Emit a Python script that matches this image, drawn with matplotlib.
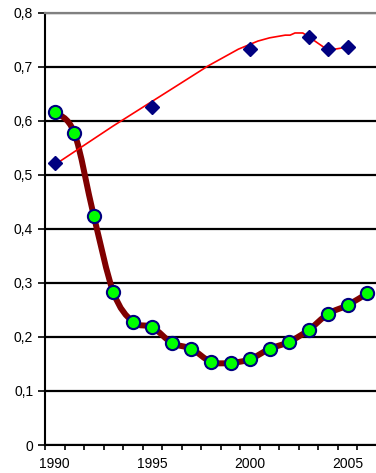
import numpy as np
import matplotlib
matplotlib.use("Agg")
import matplotlib.pyplot as plt
from matplotlib.path import Path
from matplotlib.patches import PathPatch
from matplotlib.ticker import FuncFormatter

plt.rcParams['font.family'] = ['Liberation Sans', 'DejaVu Sans']

# series
years = list(range(1990, 2007))
green_vals = [0.617, 0.578, 0.424, 0.283, 0.228, 0.218, 0.189, 0.178, 0.154,
              0.152, 0.159, 0.178, 0.191, 0.213, 0.243, 0.259, 0.281]

diamond_years = [1990, 1995, 2000, 2003, 2004, 2005]
diamond_vals = [0.522, 0.626, 0.733, 0.756, 0.733, 0.737]

red_years = [1990, 1993, 1996.15, 1997.85, 1998.7, 1999.4, 2000.4, 2001.0,
             2001.8, 2002.05, 2002.3, 2002.7, 2003.0, 2004.0, 2005.0]
red_vals = [0.519, 0.591, 0.663, 0.702, 0.719, 0.733, 0.748, 0.754,
            0.759, 0.759, 0.763, 0.763, 0.756, 0.731, 0.737]

y_ticks = [0, 0.1, 0.2, 0.3, 0.4, 0.5, 0.6, 0.7, 0.8]
x_labels = [1990, 1995, 2000, 2005]


def smooth_path(xs, ys):
    # excel style smoothed line (bezier through the points)
    p = np.column_stack([xs, ys])
    n = len(p)
    verts = [p[0]]
    codes = [Path.MOVETO]
    for i in range(n - 1):
        p0 = p[i - 1] if i > 0 else p[i]
        p3 = p[i + 2] if i + 2 < n else p[i + 1]
        c1 = p[i] + (p[i + 1] - p0) / 6.0
        c2 = p[i + 1] - (p3 - p[i]) / 6.0
        verts += [c1, c2, p[i + 1]]
        codes += [Path.CURVE4] * 3
    return Path(verts, codes)


fig = plt.figure(figsize=(3.76, 4.73), dpi=100)
ax = fig.add_axes([45 / 376, 1 - 445 / 473, 332 / 376, 432 / 473])

ax.set_xlim(1989.5, 2006.5)
ax.set_ylim(0, 0.8)

ax.add_patch(PathPatch(smooth_path(years, green_vals), fill=False,
                       edgecolor='#800000', lw=4.3, zorder=3,
                       capstyle='round', joinstyle='round'))
ax.plot(years, green_vals, 'o', ms=9.5, mfc='#00ff00', mec='#000080',
        mew=1.5, zorder=4)

ax.plot(red_years, red_vals, color='#ff0000', lw=1.2, zorder=3)
ax.plot(diamond_years, diamond_vals, 'D', ms=7.5, color='#000080', zorder=5)

ax.set_yticks(y_ticks)
ax.yaxis.set_major_formatter(FuncFormatter(
    lambda v, p: '0' if v == 0 else f'{v:.1f}'.replace('.', ',')))
ax.grid(axis='y', color='black', lw=1.6)
ax.set_axisbelow(True)

ax.set_xticks(np.arange(1989.5, 2007, 1.0))
ax.set_xticklabels([])
ax.set_xticks(x_labels, minor=True)
ax.set_xticklabels([str(x) for x in x_labels], minor=True)
ax.tick_params(axis='x', which='minor', length=0, pad=8.5, labelsize=10)
ax.tick_params(axis='x', which='major', length=3.6, width=1.2, direction='out')
ax.tick_params(axis='y', length=5, width=1.2, direction='out', labelsize=10)

ax.spines['left'].set_linewidth(1.5)
ax.spines['bottom'].set_linewidth(1.5)
ax.spines['right'].set_visible(False)
ax.spines['top'].set_color('#808080')
ax.spines['top'].set_linewidth(1.6)

fig.savefig('out.png', dpi=100)
